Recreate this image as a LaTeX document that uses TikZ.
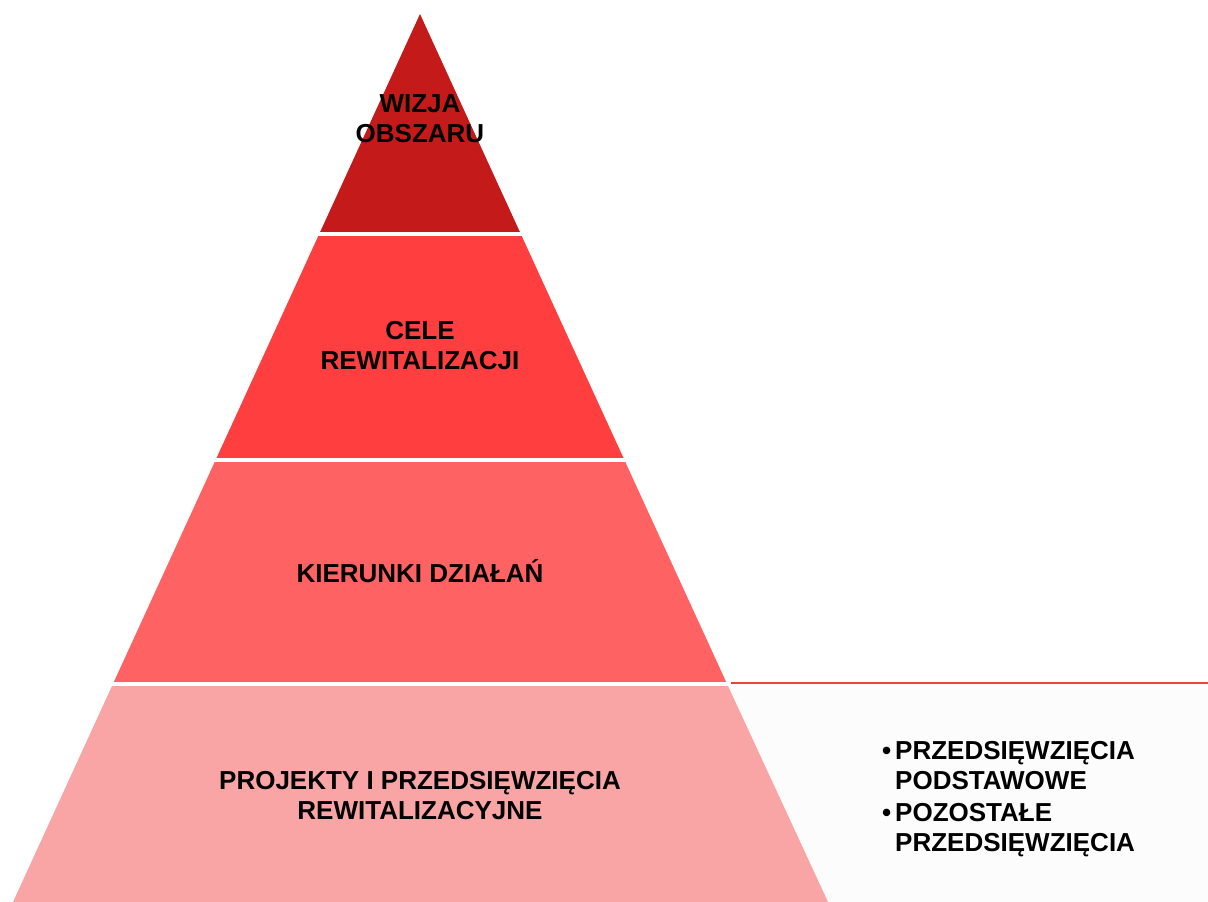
\documentclass[tikz,border=0pt]{standalone}
\usepackage{fontspec}
\setmainfont{Liberation Sans}
\definecolor{c1}{HTML}{C41A1A}
\definecolor{c2}{HTML}{FF3F3F}
\definecolor{c3}{HTML}{FF6262}
\definecolor{c4}{HTML}{FAA5A5}
\definecolor{panel}{HTML}{FCFCFC}
\definecolor{redline}{HTML}{E8453C}
\tikzset{
  lbl/.style={font=\fontsize{26}{30}\selectfont\bfseries, align=center, text=black, inner sep=0pt},
  sep/.style={draw=white, line width=4pt},
}
\begin{document}
\begin{tikzpicture}[x=1pt,y=-1pt]
\useasboundingbox[fill=white] (0,0) rectangle (1208,902);
% right panel
\fill[panel] (700,684) rectangle (1208,902);
\draw[redline, line width=2pt] (730,683) -- (1208,683);
% pyramid bands
\fill[c1] (420,14) -- (520.8,234) -- (319.2,234) -- cycle;
\fill[c2] (319.2,234) -- (520.8,234) -- (624.4,460) -- (215.6,460) -- cycle;
\fill[c3] (215.6,460) -- (624.4,460) -- (727.1,684) -- (112.9,684) -- cycle;
\fill[c4] (112.9,684) -- (727.1,684) -- (828,902) -- (13,902) -- cycle;
% separators
\draw[sep] (316,234) -- (524,234);
\draw[sep] (212,460) -- (628,460);
\draw[sep] (109,684) -- (731,684);
% labels
\node[lbl] (t1) at (420,119) {WIZJA\\OBSZARU};
\node[lbl] (t2) at (420,346) {CELE\\REWITALIZACJI};
\node[lbl] (t3) at (420,571) {KIERUNKI DZIAŁAŃ};
\node[lbl] (t4) at (420,796) {PROJEKTY I PRZEDSIĘWZIĘCIA\\REWITALIZACYJNE};
\node[font=\fontsize{26}{30}\selectfont\bfseries, align=left, anchor=north west, inner sep=0pt] (list) at (882,741)
  {\makebox[13pt][l]{•}PRZEDSIĘWZIĘCIA\\\hspace*{13pt}PODSTAWOWE\\[2pt]\makebox[13pt][l]{•}POZOSTAŁE\\\hspace*{13pt}PRZEDSIĘWZIĘCIA};
\end{tikzpicture}
\end{document}
